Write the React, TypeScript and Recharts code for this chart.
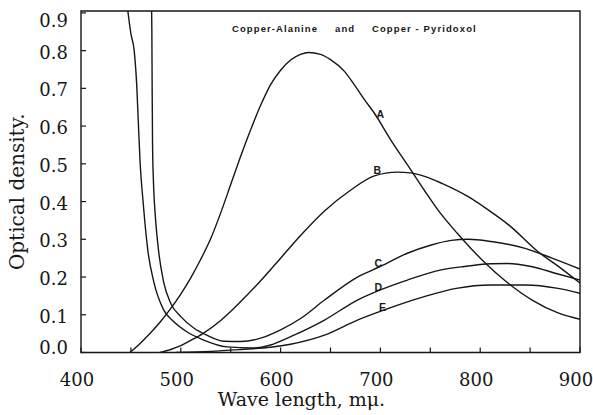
import React from 'react';
import { LineChart, Line, XAxis, YAxis, ReferenceArea, ReferenceDot, Label } from 'recharts';

type Pt = [number, number];

// [wave length (mμ), optical density] along each curve
const curveA: Pt[] = [
  [449, 0], [460, 0.026], [470, 0.053], [480, 0.083], [490, 0.117], [500, 0.155],
  [510, 0.198], [520, 0.247], [530, 0.302], [540, 0.37], [550, 0.445], [560, 0.52],
  [570, 0.59], [580, 0.655], [590, 0.71], [600, 0.748], [610, 0.775], [620, 0.79],
  [628, 0.795], [640, 0.79], [650, 0.776], [664, 0.745], [675, 0.705], [684, 0.67],
  [694, 0.634], [710, 0.565], [729, 0.49], [744, 0.43], [757, 0.38], [777, 0.316],
  [791, 0.275], [805, 0.237], [825, 0.19], [852, 0.139], [878, 0.105], [900, 0.088],
];

const curveB: Pt[] = [
  [479, 0], [490, 0.008], [500, 0.018], [510, 0.032], [522, 0.05], [540, 0.085],
  [560, 0.135], [580, 0.19], [600, 0.25], [620, 0.31], [644, 0.375], [670, 0.43],
  [694, 0.468], [717, 0.478], [730, 0.476], [745, 0.466], [761, 0.449], [788, 0.413],
  [808, 0.378], [830, 0.335], [858, 0.267], [880, 0.225], [900, 0.184],
];

const curveC: Pt[] = [
  [470.6, 0.95], [471.0, 0.85], [471.3, 0.7], [471.7, 0.55], [472.5, 0.46], [473.5, 0.4],
  [474.5, 0.36], [477.7, 0.27], [482.7, 0.188], [490, 0.13], [500, 0.095], [513, 0.065],
  [526, 0.046], [543, 0.03], [560, 0.029], [580, 0.038], [600, 0.06], [620, 0.09],
  [644, 0.139], [677, 0.2], [700, 0.228], [727, 0.263], [751, 0.285], [771, 0.297],
  [788, 0.3], [811, 0.294], [845, 0.276], [872, 0.25], [900, 0.221],
];

const curveD: Pt[] = [
  [445, 0.95], [446.9, 0.906], [450, 0.845], [453.3, 0.8], [456, 0.7], [457.6, 0.6],
  [459.3, 0.5], [462.2, 0.4], [467, 0.27], [472.7, 0.19], [482.8, 0.113], [492.8, 0.082],
  [506, 0.055], [523, 0.033], [546, 0.015], [573, 0.012], [590, 0.02], [610, 0.042],
  [644, 0.086], [677, 0.139], [700, 0.166], [727, 0.192], [761, 0.219], [784, 0.228],
  [811, 0.235], [828, 0.236], [851, 0.228], [878, 0.208], [900, 0.192],
];

const curveE: Pt[] = [
  [495, 0], [530, 0.003], [560, 0.008], [590, 0.014], [610, 0.022], [644, 0.046],
  [677, 0.086], [704, 0.113], [744, 0.148], [776, 0.17], [811, 0.179], [845, 0.179],
  [878, 0.17], [900, 0.157],
];

const curveLabels = [
  { name: 'A', wl: 700, od: 0.63 },
  { name: 'B', wl: 697, od: 0.482 },
  { name: 'C', wl: 698, od: 0.237 },
  { name: 'D', wl: 698, od: 0.173 },
  { name: 'E', wl: 702, od: 0.12 },
];

const xTicks = [400, 450, 500, 550, 600, 650, 700, 750, 800, 850, 900];
const yTicks = [0, 0.1, 0.2, 0.3, 0.4, 0.5, 0.6, 0.7, 0.8, 0.9];
const X_DOMAIN: [number, number] = [400, 900];
const Y_MAX = 0.905;

const INK = '#161616';
const SERIF = '"DejaVu Serif", serif';
const SANS = '"Liberation Sans", Arial, sans-serif';

const toRows = (pts: Pt[]) => pts.map(([wl, od]) => ({ wl, od }));

const series = [
  { key: 'A', rows: toRows(curveA) },
  { key: 'B', rows: toRows(curveB) },
  { key: 'C', rows: toRows(curveC) },
  { key: 'D', rows: toRows(curveD) },
  { key: 'E', rows: toRows(curveE) },
];

// inward tick mark, number label below only on the hundreds
const BottomTick = ({ x, y, payload }: any) => {
  const v = payload.value;
  return (
    <g>
      <line x1={x} x2={x} y1={y} y2={y - 5} stroke={INK} strokeWidth={1.2} />
      {v % 100 === 0 && (
        <text x={x - 4} y={y + 33} textAnchor="middle" fontFamily={SERIF} fontSize={18} fill={INK}>
          {v}
        </text>
      )}
    </g>
  );
};

const LeftTick = ({ x, y, payload }: any) => {
  const v = payload.value;
  // end labels are pulled in so they stay clear of the frame corners
  const nudge = v === 0 ? -5 : v > 0.85 ? 8 : 1.5;
  return (
    <g>
      <line x1={x} x2={x + 5} y1={y} y2={y} stroke={INK} strokeWidth={1.2} />
      <text x={x - 13} y={y + nudge} textAnchor="end" dominantBaseline="central"
        fontFamily={SERIF} fontSize={18} fill={INK}>
        {v.toFixed(1)}
      </text>
    </g>
  );
};

const titleStyle: React.CSSProperties = {
  position: 'absolute',
  top: 24,
  fontFamily: SANS,
  fontWeight: 700,
  fontSize: 9.5,
  letterSpacing: 1.1,
  lineHeight: '10px',
  color: INK,
  whiteSpace: 'pre',
};

export default function App() {
  return (
    <div style={{ position: 'absolute', left: 0, top: 0, width: 593, height: 415, background: '#fff' }}>
      <LineChart width={593} height={415} margin={{ top: 11, right: 13, bottom: 0, left: 21 }}>
        <XAxis
          dataKey="wl"
          type="number"
          domain={X_DOMAIN}
          ticks={xTicks}
          interval={0}
          allowDataOverflow
          height={62.5}
          axisLine={false}
          tickLine={false}
          tickSize={0}
          tickMargin={0}
          tick={<BottomTick />}
        >
          <Label
            content={({ viewBox }: any) => (
              <text x={viewBox.x + viewBox.width / 2 - 29} y={viewBox.y + 53} textAnchor="middle"
                fontFamily={SERIF} fontSize={19} fill={INK}>
                Wave length, mμ.
              </text>
            )}
          />
        </XAxis>
        <YAxis
          type="number"
          domain={[0, Y_MAX]}
          ticks={yTicks}
          interval={0}
          allowDataOverflow
          width={60}
          axisLine={false}
          tickLine={false}
          tickSize={0}
          tickMargin={0}
          tick={<LeftTick />}
        >
          <Label
            content={({ viewBox }: any) => {
              const cx = viewBox.x + 3;
              const cy = viewBox.y + viewBox.height / 2 + 10;
              return (
                <text x={cx} y={cy} transform={`rotate(-90 ${cx} ${cy})`} textAnchor="middle"
                  fontFamily={SERIF} fontSize={20} fill={INK}>
                  Optical density.
                </text>
              );
            }}
          />
        </YAxis>
        <XAxis
          xAxisId="top"
          orientation="top"
          type="number"
          domain={X_DOMAIN}
          ticks={xTicks}
          interval={0}
          allowDataOverflow
          mirror
          axisLine={false}
          tick={false}
          tickSize={5}
          tickLine={{ stroke: INK, strokeWidth: 1.2 }}
        />
        <YAxis
          yAxisId="right"
          orientation="right"
          type="number"
          domain={[0, Y_MAX]}
          ticks={yTicks}
          interval={0}
          allowDataOverflow
          mirror
          axisLine={false}
          tick={false}
          tickSize={5}
          tickLine={{ stroke: INK, strokeWidth: 1.2 }}
        />
        <ReferenceArea x1={400} x2={900} y1={0} y2={Y_MAX} fill="none" stroke={INK} strokeWidth={1.4} />
        {series.map((s) => (
          <Line
            key={s.key}
            data={s.rows}
            dataKey="od"
            type="monotone"
            stroke={INK}
            strokeWidth={1.4}
            dot={false}
            activeDot={false}
            isAnimationActive={false}
          />
        ))}
        {curveLabels.map((l) => (
          <ReferenceDot
            key={l.name}
            x={l.wl}
            y={l.od}
            r={0}
            fill="none"
            stroke="none"
            label={{ value: l.name, position: 'center', fill: INK, fontSize: 10.5, fontWeight: 700, fontFamily: SANS }}
          />
        ))}
      </LineChart>
      <span style={{ ...titleStyle, left: 232 }}>Copper-Alanine</span>
      <span style={{ ...titleStyle, left: 335 }}>and</span>
      <span style={{ ...titleStyle, left: 372 }}>Copper - Pyridoxol</span>
    </div>
  );
}
